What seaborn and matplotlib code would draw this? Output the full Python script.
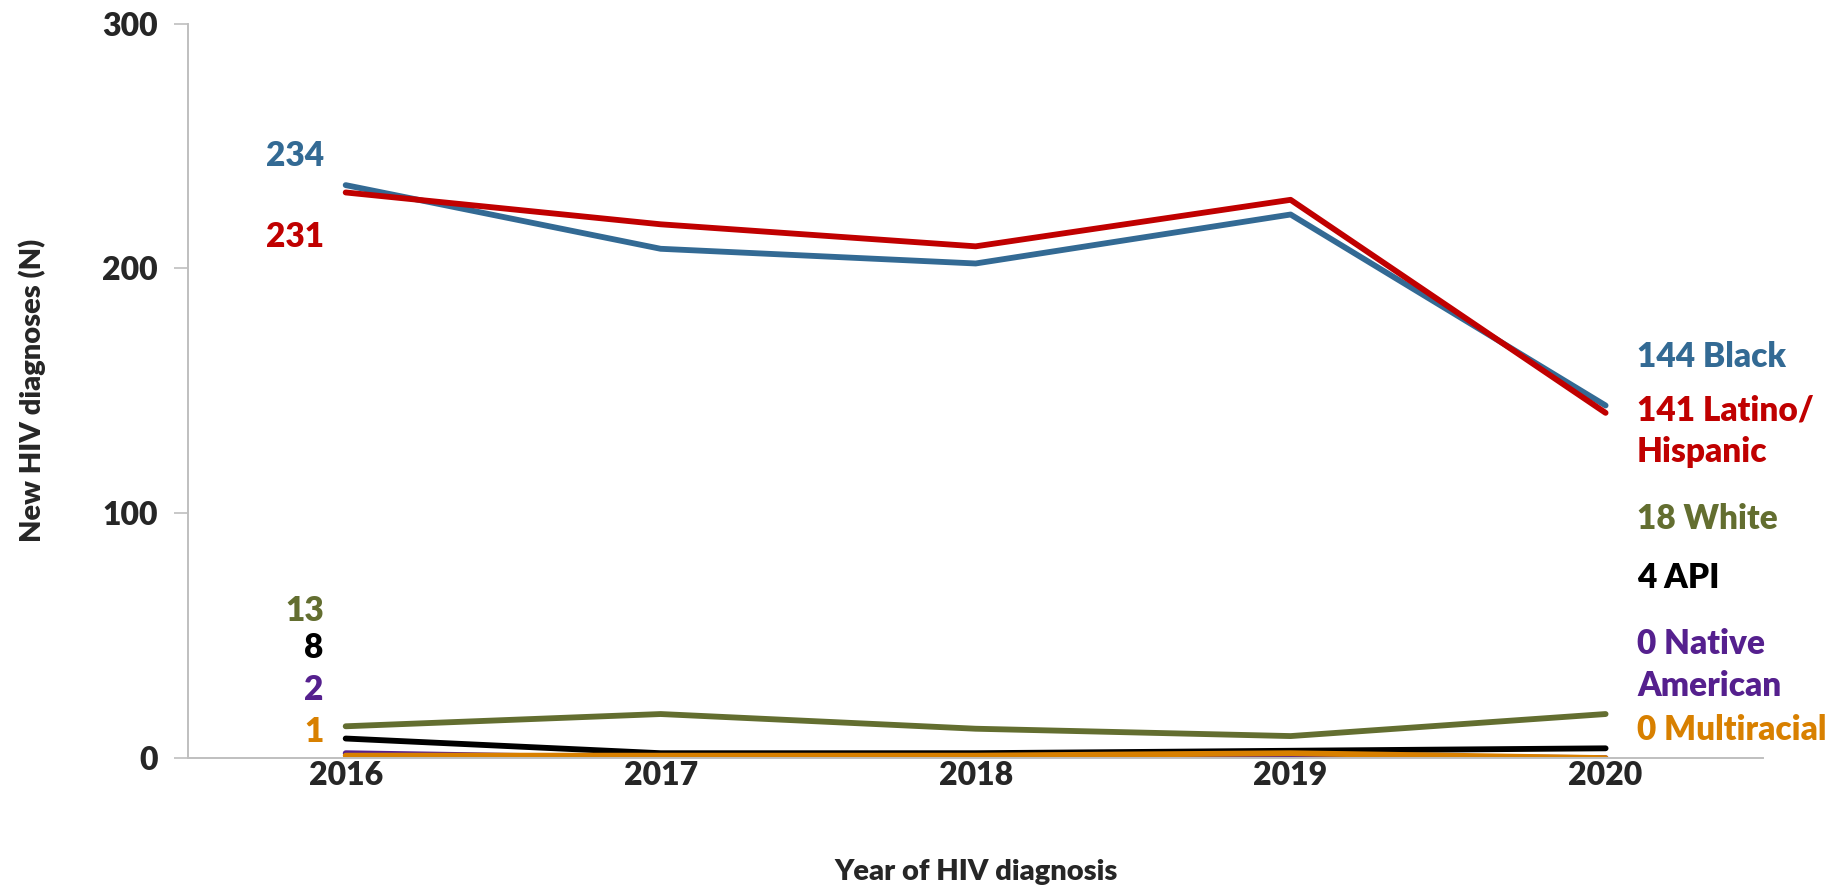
import matplotlib
matplotlib.use("Agg")
import matplotlib.pyplot as plt
import seaborn as sns
import pandas as pd

# ─────────────────────────────────────────────
# DATA
# ─────────────────────────────────────────────
years = ["2016", "2017", "2018", "2019", "2020"]
groups = ["Black", "Latino/Hispanic", "White", "API", "Native American", "Multiracial"]

black       = [234, 208, 202, 222, 144]
latino      = [231, 218, 209, 228, 141]
white       = [13, 18, 12, 9, 18]
api         = [8, 2, 2, 3, 4]
native      = [2, 0, 0, 1, 0]
multiracial = [1, 1, 1, 2, 0]

colors = {
    "Black": "#336A94",
    "Latino/Hispanic": "#C00000",
    "White": "#636E30",
    "API": "#000000",
    "Native American": "#55208E",
    "Multiracial": "#D88000",
}

# end-of-line label text (left side = first value, right side = last value + name)
left_labels  = ["234", "231", "13", "8", "2", "1"]
right_labels = ["144 Black", "141 Latino/\nHispanic", "18 White", "4 API",
                "0 Native\nAmerican", "0 Multiracial"]

series = [black, latino, white, api, native, multiracial]
df = pd.DataFrame({
    "year": years * len(groups),
    "group": [g for g in groups for _ in years],
    "n": [v for s in series for v in s],
})

# ─────────────────────────────────────────────
# PLOT
# ─────────────────────────────────────────────
W = "heavy"   # Lato heavy/black is closest to the Calibri Bold look

sns.set_style("white")
plt.rcParams["font.family"] = ["Lato", "DejaVu Sans"]
plt.rcParams["font.weight"] = W

fig, ax = plt.subplots(figsize=(18.45, 8.94), dpi=100)
fig.subplots_adjust(left=0.102, right=0.9556, top=0.9737, bottom=0.152)

sns.lineplot(data=df, x="year", y="n", hue="group", hue_order=groups,
             palette=colors, lw=4.2, legend=False, ax=ax, sort=False)

ax.set_xlim(-0.5, 4.5)
ax.set_ylim(0, 300)
ax.set_yticks([0, 100, 200, 300])
ax.set_xticks(range(len(years)))
ax.set_xticklabels(years, fontweight=W)
ax.set_yticklabels(["0", "100", "200", "300"], fontweight=W)
ax.set_xticks([i - 0.5 for i in range(len(years) + 1)], minor=True)

ax.tick_params(axis="x", which="major", length=0, pad=2, labelsize=23)
ax.tick_params(axis="x", which="minor", length=10, width=1.2, color="#BFBFBF", direction="out")
ax.tick_params(axis="y", length=10, width=1.2, color="#BFBFBF", direction="out", pad=12, labelsize=23)
ax.tick_params(bottom=True, left=True)

for side in ("top", "right"):
    ax.spines[side].set_visible(False)
for side in ("left", "bottom"):
    ax.spines[side].set_color("#BFBFBF")
    ax.spines[side].set_linewidth(1.4)

ax.set_xlabel("Year of HIV diagnosis", fontsize=21, fontweight=W, labelpad=50)
ax.set_ylabel("New HIV diagnoses (N)", fontsize=21, fontweight=W, labelpad=40)

# label heights (data units)
left_y  = [246, 213, 60, 45, 28, 10.5]
right_y = [164, 133.5, 97.5, 73.5, 38, 11.5]

for g, txt, y in zip(groups, left_labels, left_y):
    ax.text(-0.07, y, txt, color=colors[g], ha="right", va="center",
            fontsize=24, fontweight=W)
for g, txt, y in zip(groups, right_labels, right_y):
    ax.text(4.1, y, txt, color=colors[g], ha="left", va="center",
            fontsize=24, fontweight=W, linespacing=1.4, clip_on=False)

plt.savefig("out.png", dpi=100)
plt.close()
